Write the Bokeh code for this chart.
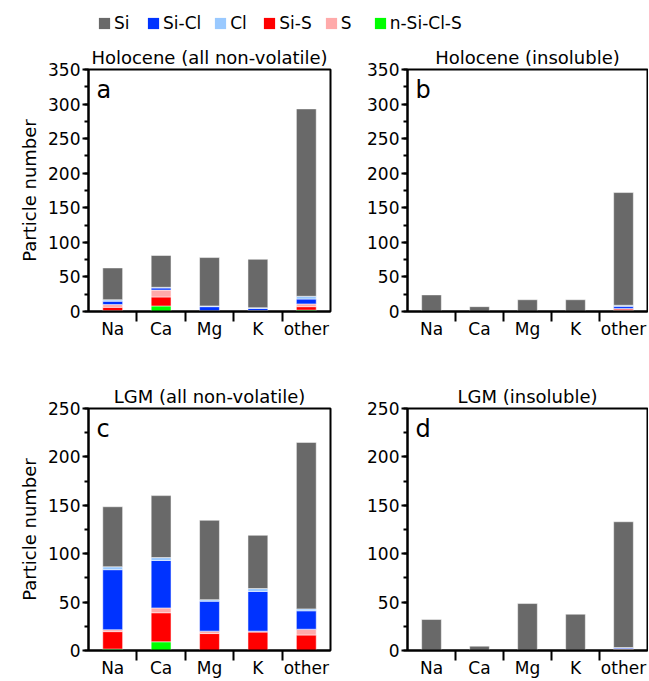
from bokeh.plotting import figure
from bokeh.models import Range1d, FixedTicker, SingleIntervalTicker, Label, Legend, LegendItem
from bokeh.layouts import column, row
from bokeh.embed import file_html
from bokeh.resources import INLINE

FONT = "DejaVu Sans"

categories = ["Na", "Ca", "Mg", "K", "other"]
# stack order bottom -> top
series = ["n-Si-Cl-S", "Si-S", "S", "Si-Cl", "Cl", "Si"]
colors = ["#00ff00", "#ff0000", "#ffaaaa", "#0033ff", "#99c9ff", "#696969"]
legend_order = ["Si", "Si-Cl", "Cl", "Si-S", "S", "n-Si-Cl-S"]

# Holocene (all non-volatile)
holo_all_nsicls = [1, 8, 0, 0, 2]
holo_all_sis = [5, 13, 1, 1, 5]
holo_all_s = [4, 10, 0, 0.5, 4]
holo_all_sicl = [5, 3, 6, 3, 7]
holo_all_cl = [2, 1, 1, 1, 4]
holo_all_si = [46, 46, 70, 70, 271]

# Holocene (insoluble)
holo_ins_nsicls = [0, 0, 0, 0, 1.5]
holo_ins_sis = [0, 0, 0, 0, 2]
holo_ins_s = [0, 0, 0, 0, 1]
holo_ins_sicl = [0, 0, 0, 0, 3]
holo_ins_cl = [0, 0, 0, 0, 1.5]
holo_ins_si = [24, 7, 17, 17, 163]

# LGM (all non-volatile)
lgm_all_nsicls = [1.5, 9, 0, 0, 0]
lgm_all_sis = [18, 30, 17.5, 19, 16]
lgm_all_s = [2, 5, 2.5, 1, 6]
lgm_all_sicl = [62, 49, 31, 41, 19]
lgm_all_cl = [3, 3, 1.5, 3, 2]
lgm_all_si = [62, 64, 82, 55, 172]

# LGM (insoluble)
lgm_ins_nsicls = [0, 0, 0, 0, 0]
lgm_ins_sis = [0, 0, 0, 0, 1]
lgm_ins_s = [0, 0, 0, 0, 0.5]
lgm_ins_sicl = [0, 0, 0, 0, 1]
lgm_ins_cl = [0, 0, 0, 0, 0.5]
lgm_ins_si = [32, 4.5, 48.5, 37.5, 130]


def make_panel(title, letter, stacks, ymax, ylabel, frame_w, bl, br, bt, bb):
    n = len(categories)
    centers = [i + 0.5 for i in range(n)]
    bounds = [i for i in range(1, n)]
    data = {"x": centers}
    for name, vals in zip(series, stacks):
        data[name] = vals
    p = figure(frame_width=frame_w, frame_height=242,
               x_range=Range1d(0, n), y_range=Range1d(0, ymax),
               output_backend="svg", toolbar_location=None,
               min_border_left=bl, min_border_right=br,
               min_border_top=bt, min_border_bottom=bb)
    p.vbar_stack(series, x="x", width=0.41, source=data, color=colors,
                 line_color="white", line_alpha=0.5, line_width=1)
    p.xgrid.visible = False
    p.ygrid.visible = False
    p.outline_line_color = "black"
    p.outline_line_width = 2
    p.outline_line_alpha = 1

    xa = p.xaxis[0]
    xa.ticker = FixedTicker(ticks=centers, minor_ticks=bounds)
    xa.major_label_overrides = {c: cat for c, cat in zip(centers, categories)}
    xa.major_tick_out = 0
    xa.major_tick_in = 0
    xa.minor_tick_out = 10
    xa.minor_tick_in = 0
    xa.minor_tick_line_width = 2
    xa.minor_tick_line_color = "black"
    xa.axis_line_width = 2
    xa.major_label_standoff = -3
    xa.major_label_text_font = FONT
    xa.major_label_text_font_size = "17px"
    xa.major_label_text_color = "black"

    ya = p.yaxis[0]
    ya.ticker = SingleIntervalTicker(interval=50, num_minor_ticks=2)
    ya.major_tick_out = 6
    ya.major_tick_in = 0
    ya.minor_tick_out = 4
    ya.minor_tick_in = 0
    ya.major_tick_line_width = 2
    ya.minor_tick_line_width = 2
    ya.minor_tick_line_color = "black"
    ya.major_tick_line_color = "black"
    ya.axis_line_width = 2
    ya.major_label_standoff = 2
    ya.major_label_text_font = FONT
    ya.major_label_text_font_size = "17px"
    ya.major_label_text_color = "black"
    if ylabel:
        ya.axis_label = "Particle number"
        ya.axis_label_text_font = FONT
        ya.axis_label_text_font_size = "18px"
        ya.axis_label_text_font_style = "normal"
        ya.axis_label_text_color = "black"
        ya.axis_label_standoff = 5

    p.title.text = title
    p.title.align = "center"
    p.title.text_font = FONT
    p.title.text_font_size = "18px"
    p.title.text_font_style = "normal"
    p.title.text_color = "black"
    p.title.standoff = 3

    p.add_layout(Label(x=8, y=242 - 20, x_units="screen", y_units="screen",
                       text=letter, text_font=FONT, text_font_size="24px",
                       text_baseline="alphabetic", text_color="black"))
    return p


pa = make_panel("Holocene (all non-volatile)", "a",
                [holo_all_nsicls, holo_all_sis, holo_all_s, holo_all_sicl, holo_all_cl, holo_all_si],
                350, True, 242, 88, 30, 25, 71)
pb = make_panel("Holocene (insoluble)", "b",
                [holo_ins_nsicls, holo_ins_sis, holo_ins_s, holo_ins_sicl, holo_ins_cl, holo_ins_si],
                350, False, 240, 47, 1, 25, 71)
pc = make_panel("LGM (all non-volatile)", "c",
                [lgm_all_nsicls, lgm_all_sis, lgm_all_s, lgm_all_sicl, lgm_all_cl, lgm_all_si],
                250, True, 242, 88, 30, 25, 23)
pd = make_panel("LGM (insoluble)", "d",
                [lgm_ins_nsicls, lgm_ins_sis, lgm_ins_s, lgm_ins_sicl, lgm_ins_cl, lgm_ins_si],
                250, False, 240, 47, 1, 25, 23)

# legend strip (swatch proxies sit outside the visible x range)
pl = figure(width=648, height=43, x_range=Range1d(0, 1), y_range=Range1d(0, 1),
            output_backend="svg", toolbar_location=None, min_border=0)
pl.axis.visible = False
pl.xgrid.visible = False
pl.ygrid.visible = False
pl.outline_line_color = None
items = []
for name in legend_order:
    c = colors[series.index(name)]
    r = pl.vbar(x=[-5], top=[0], width=0.5, fill_color=c, line_color=None)
    items.append(LegendItem(label=name, renderers=[r]))
leg = Legend(items=items, orientation="horizontal", location=(97, 10),
             glyph_width=14, glyph_height=14, label_standoff=3, spacing=12,
             padding=0, margin=0, border_line_color=None, background_fill_alpha=0,
             label_text_font=FONT, label_text_font_size="17px", label_text_color="black")
pl.add_layout(leg, "center")

layout = column(pl, row(pa, pb), row(pc, pd))
open("out.html", "w").write(file_html(layout, INLINE))
